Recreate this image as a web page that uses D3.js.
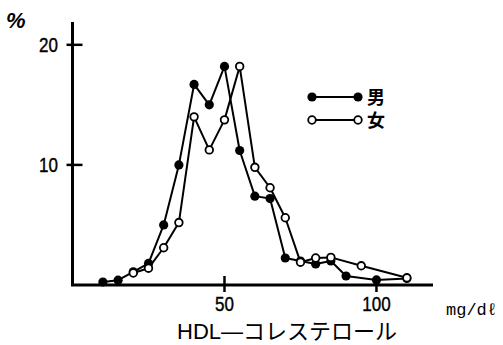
<!DOCTYPE html>
<html><head><meta charset="utf-8">
<script src="https://cdn.jsdelivr.net/npm/d3@7"></script>
<style>
html,body{margin:0;padding:0;background:#fff;}
svg{display:block;}
text{fill:#000;}
</style></head>
<body>
<svg id="c" width="503" height="345"></svg>
<script>
// Data (HDL-cholesterol distribution, %)
const maleX   = [10, 15, 20, 25, 30, 35, 40, 45, 50, 55, 60, 65, 70, 75, 80, 85, 90, 100, 110];
const maleY   = [0.25, 0.4, 1.1, 1.8, 5.0, 10.0, 16.7, 15.0, 18.2, 11.2, 7.4, 7.2, 2.25, 2.0, 1.75, 2.0, 0.75, 0.42, 0.55];
const femaleX = [20, 25, 30, 35, 40, 45, 50, 55, 60, 65, 70, 75, 80, 85, 95, 110];
const femaleY = [1.0, 1.4, 3.1, 5.2, 14.0, 11.25, 13.75, 18.2, 9.8, 8.1, 5.6, 1.9, 2.25, 2.3, 1.6, 0.6];
const xTicks = [50, 100];
const yTicks = [10, 20];
const legendLabels = ["男", "女"];
const xUnit = "mg/dℓ";
const xTitle = "HDL—コレステロール";
const yUnit = "%";

const svg = d3.select("#c");
const x = d3.scaleLinear().domain([0, 118.6]).range([72.5, 433]);
const y = d3.scaleLinear().domain([0, 21.9]).range([285, 22]);

const male = maleX.map((v, i) => ({x: v, y: maleY[i]}));
const female = femaleX.map((v, i) => ({x: v, y: femaleY[i]}));

const jpFont = "Liberation Sans, Noto Sans CJK JP, sans-serif";

// axes
const axisW = 3;
svg.append("line").attr("x1", x(0)).attr("x2", x(0)).attr("y1", y(21.9)).attr("y2", y(0))
  .attr("stroke", "#000").attr("stroke-width", axisW);
svg.append("line").attr("x1", x(0) - 1.5).attr("x2", x(118.6)).attr("y1", y(0)).attr("y2", y(0))
  .attr("stroke", "#000").attr("stroke-width", axisW);

// y ticks
svg.selectAll(".yt").data(yTicks).enter().append("line")
  .attr("x1", x(0) - 6).attr("x2", x(0) + 10)
  .attr("y1", d => y(d)).attr("y2", d => y(d))
  .attr("stroke", "#000").attr("stroke-width", 2.5);
svg.selectAll(".ytl").data(yTicks).enter().append("text")
  .attr("x", 58 / 0.85).attr("y", d => y(d) + 7)
  .attr("text-anchor", "end")
  .attr("font-family", "Liberation Sans, Arial, sans-serif")
  .attr("font-size", 20)
  .attr("stroke", "#000").attr("stroke-width", 0.4)
  .attr("transform", "scale(0.85,1)")
  .text(d => d);

// x ticks
svg.selectAll(".xt").data(xTicks).enter().append("line")
  .attr("x1", d => x(d)).attr("x2", d => x(d))
  .attr("y1", y(0) - 9).attr("y2", y(0) + 7)
  .attr("stroke", "#000").attr("stroke-width", 2.5);
svg.selectAll(".xtl").data(xTicks).enter().append("text")
  .attr("x", d => x(d) / 0.85).attr("y", 311)
  .attr("text-anchor", "middle")
  .attr("font-family", "Liberation Sans, Arial, sans-serif")
  .attr("font-size", 20)
  .attr("stroke", "#000").attr("stroke-width", 0.4)
  .attr("transform", "scale(0.85,1)")
  .text(d => d);

// units and titles
svg.append("text").attr("x", 6).attr("y", 28)
  .attr("font-family", "Liberation Sans, Arial, sans-serif")
  .attr("font-size", 22).attr("font-weight", "bold").attr("font-style", "italic")
  .text(yUnit);
svg.append("text").attr("x", 446).attr("y", 315)
  .attr("font-family", "Liberation Mono, DejaVu Sans Mono, monospace")
  .attr("font-size", 17)
  .text(xUnit);
svg.append("text").attr("x", 177).attr("y", 339)
  .attr("font-family", jpFont)
  .attr("font-size", 22)
  .text(xTitle);

// lines
const line = d3.line().x(d => x(d.x)).y(d => y(d.y));
svg.append("path").datum(male).attr("d", line)
  .attr("fill", "none").attr("stroke", "#000").attr("stroke-width", 2).attr("stroke-linejoin", "round");
svg.append("path").datum(female).attr("d", line)
  .attr("fill", "none").attr("stroke", "#000").attr("stroke-width", 2).attr("stroke-linejoin", "round");

// markers
svg.selectAll(".mp").data(male).enter().append("circle")
  .attr("cx", d => x(d.x)).attr("cy", d => y(d.y)).attr("r", 4.6)
  .attr("fill", "#000");
svg.selectAll(".fp").data(female).enter().append("circle")
  .attr("cx", d => x(d.x)).attr("cy", d => y(d.y)).attr("r", 3.8)
  .attr("fill", "#fff").attr("stroke", "#000").attr("stroke-width", 1.8);

// legend
const lg = [{label: legendLabels[0], filled: true, yy: 97}, {label: legendLabels[1], filled: false, yy: 120}];
const lgs = svg.selectAll(".lg").data(lg).enter().append("g");
lgs.append("line").attr("x1", 312).attr("x2", 358).attr("y1", d => d.yy).attr("y2", d => d.yy)
  .attr("stroke", "#000").attr("stroke-width", 2);
[312, 358].forEach(cx => {
  lgs.append("circle").attr("cx", cx).attr("cy", d => d.yy)
    .attr("r", d => d.filled ? 4.6 : 3.8)
    .attr("fill", d => d.filled ? "#000" : "#fff")
    .attr("stroke", "#000").attr("stroke-width", d => d.filled ? 0 : 1.8);
});
lgs.append("text").attr("x", 367).attr("y", d => d.yy + 6.5)
  .attr("font-family", jpFont)
  .attr("font-size", 18).attr("font-weight", "bold")
  .text(d => d.label);
</script>
</body></html>
